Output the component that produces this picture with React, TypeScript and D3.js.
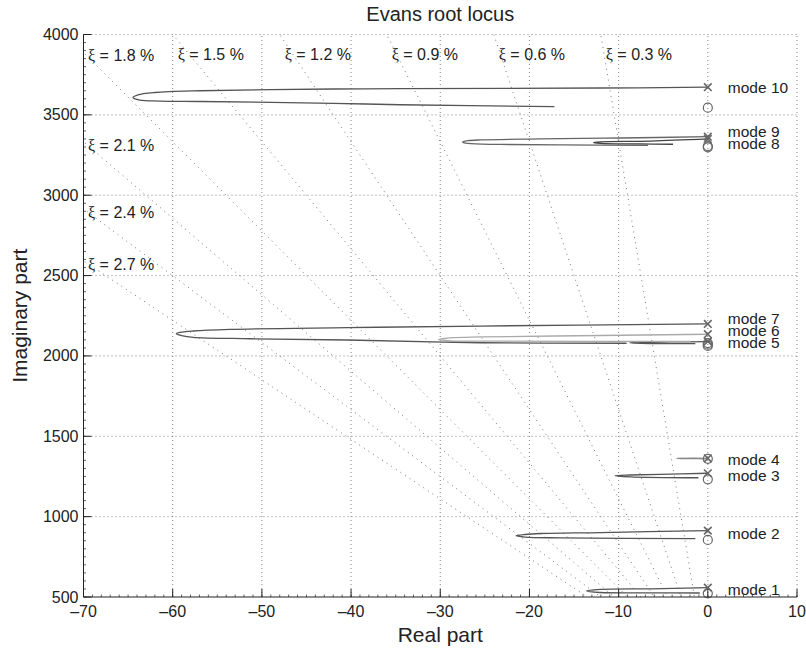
import React from "react";
import * as d3 from "d3";

const xTicks = [-70, -60, -50, -40, -30, -20, -10, 0, 10];
const yTicks = [500, 1000, 1500, 2000, 2500, 3000, 3500, 4000];
const dampingPercent = [0.3, 0.6, 0.9, 1.2, 1.5, 1.8, 2.1, 2.4, 2.7];

const modeNames = ["mode 1", "mode 2", "mode 3", "mode 4", "mode 5", "mode 6", "mode 7", "mode 8", "mode 9", "mode 10"];
const labelImag = [544, 896, 1259, 1357, 2082, 2161, 2236, 3323, 3395, 3672];
const poleImag = [558, 913, 1270, 1363, 2090, 2135, 2199, 3350, 3364, 3672];
const zeroImag = [523, 855, 1232, 1360, 2062, 2080, 2070, 3298, 3306, 3545];
const locusColors = ["#555", "#555", "#555", "#888", "#555", "#aaa", "#555", "#444", "#666", "#555"];

// root locus branches [real, imag]
const locus1: [number, number][] = [[0, 558], [-6.4, 551], [-12.05, 547], [-13.6, 537], [-12.05, 528], [-6.4, 526], [-0.9, 525]];
const locus2: [number, number][] = [[0, 913], [-12.05, 901], [-18.8, 895], [-20.5, 889], [-21.5, 881], [-20.5, 873], [-16.5, 868], [-1.4, 863]];
const locus3: [number, number][] = [[0, 1270], [-5.35, 1263], [-8.7, 1259], [-10.4, 1255], [-8.7, 1248], [-1.05, 1242]];
const locus4: [number, number][] = [[0, 1363], [-1.8, 1363.5], [-3.5, 1362], [-1.8, 1361], [-0.3, 1360]];
const locus5: [number, number][] = [[0, 2089], [-4.2, 2087], [-8.8, 2082], [-6.4, 2077], [-1.4, 2077]];
const locus6: [number, number][] = [[0, 2135], [-12.05, 2127], [-25.5, 2118], [-28.9, 2112], [-30.2, 2102], [-28.9, 2094], [-25.5, 2092], [-1.95, 2091]];
const locus7: [number, number][] = [[0, 2199], [-25.5, 2186], [-40.4, 2176], [-53.6, 2165], [-57.7, 2155], [-59.2, 2146], [-59.6, 2138], [-59.0, 2127], [-57.7, 2116], [-51.3, 2107], [-40.4, 2099], [-25.5, 2082], [-9.1, 2079]];
const locus8: [number, number][] = [[0, 3350], [-6.4, 3337], [-12.05, 3332], [-12.8, 3328], [-12.05, 3322], [-7.6, 3319], [-3.9, 3317]];
const locus9: [number, number][] = [[0, 3364], [-9.8, 3356], [-18.8, 3350], [-25.5, 3344], [-26.9, 3339], [-27.5, 3331], [-26.9, 3322], [-23.3, 3316], [-16.5, 3313], [-6.7, 3311]];
const locus10: [number, number][] = [[0, 3672], [-12.05, 3667], [-34.5, 3663], [-42.0, 3661], [-56.9, 3650], [-62.0, 3639], [-63.9, 3624], [-64.45, 3607], [-63.7, 3592], [-61.4, 3586], [-56.9, 3583], [-42.0, 3572], [-34.5, 3563], [-17.2, 3551]];
const loci = [locus1, locus2, locus3, locus4, locus5, locus6, locus7, locus8, locus9, locus10];

const W = 806, H = 656;
const FONT = "'Liberation Sans', Arial, Helvetica, sans-serif";

export default function App() {
  const x = d3.scaleLinear().domain([-70, 10]).range([83.5, 797]);
  const y = d3.scaleLinear().domain([500, 4000]).range([597, 34.5]);
  const [x0, x1] = x.range();
  const [yb, yt] = y.range();
  const line = d3.line<[number, number]>().x(d => x(d[0])).y(d => y(d[1])).curve(d3.curveCatmullRom.alpha(0.5));
  const xMinor = d3.range(-70, 10.001, 1);
  const yMinor = d3.range(500, 4000.001, 50);
  const fmt = d3.format(".1f");

  const damping = dampingPercent.map(p => {
    const z = p / 100;
    const k = Math.sqrt(1 - z * z) / z;
    const imAtLeft = 70 * k;
    let lx: number, ly: number;
    if (imAtLeft > 4000) {
      lx = x(-4000 / k) + 5;
      ly = yt + 25.5;
    } else {
      lx = x0 + 4.5;
      ly = y(imAtLeft) + 9;
    }
    return { p, k, lx, ly };
  });

  return (
    <svg width={W} height={H} style={{ position: "absolute", left: 0, top: 0, background: "#fff" }} fontFamily={FONT}>
      <defs>
        <clipPath id="plotClip">
          <rect x={x0} y={yt} width={x1 - x0} height={yb - yt} />
        </clipPath>
      </defs>
      {/* grid */}
      <g stroke="#777" strokeWidth={0.9} strokeDasharray="1 3">
        {xTicks.filter(t => t > -70).map(t => (
          <line key={"gx" + t} x1={x(t)} x2={x(t)} y1={yb} y2={yt} />
        ))}
        {yTicks.filter(t => t > 500).map(t => (
          <line key={"gy" + t} x1={x0} x2={x1} y1={y(t)} y2={y(t)} />
        ))}
      </g>
      {/* damping lines */}
      <g clipPath="url(#plotClip)" stroke="#666" strokeWidth={0.9} strokeDasharray="1 4.5">
        {damping.map(d => (
          <line key={"dl" + d.p} x1={x(0)} y1={y(0)} x2={x(-100)} y2={y(100 * d.k)} />
        ))}
      </g>
      {damping.map(d => (
        <text key={"dt" + d.p} x={d.lx} y={d.ly} fontSize={16} fill="#222">
          <tspan fontFamily="'Liberation Serif', 'DejaVu Serif', serif">ξ</tspan>
          <tspan> = {fmt(d.p)} %</tspan>
        </text>
      ))}
      {/* loci */}
      <g clipPath="url(#plotClip)" fill="none" strokeWidth={1.3}>
        {loci.map((l, i) => (
          <path key={"lc" + i} d={line(l) || ""} stroke={locusColors[i]} />
        ))}
      </g>
      {/* zeros and poles */}
      <g fill="none" stroke="#666">
        {zeroImag.map((v, i) => (
          <circle key={"z" + i} cx={x(0)} cy={y(v)} r={4.5} strokeWidth={1.2} />
        ))}
        {poleImag.map((v, i) => (
          <g key={"p" + i} strokeWidth={1.6}>
            <line x1={x(0) - 3.8} x2={x(0) + 3.8} y1={y(v) - 3.8} y2={y(v) + 3.8} />
            <line x1={x(0) - 3.8} x2={x(0) + 3.8} y1={y(v) + 3.8} y2={y(v) - 3.8} />
          </g>
        ))}
      </g>
      {/* mode labels */}
      {modeNames.map((m, i) => (
        <text key={"ml" + i} x={x(0) + 20} y={y(labelImag[i]) + 5.5} fontSize={15.5} fill="#222">{m}</text>
      ))}
      {/* axes */}
      <g stroke="#222" strokeWidth={1}>
        <line x1={x0} x2={x1} y1={yb} y2={yb} />
        <line x1={x0} x2={x0} y1={yb} y2={yt} />
        {xTicks.map(t => (
          <line key={"tx" + t} x1={x(t)} x2={x(t)} y1={yb} y2={yb - 8} />
        ))}
        {yTicks.map(t => (
          <line key={"ty" + t} x1={x0} x2={x0 + 8} y1={y(t)} y2={y(t)} />
        ))}
        {xMinor.map(t => (
          <line key={"mx" + t} x1={x(t)} x2={x(t)} y1={yb} y2={yb - 2.5} strokeWidth={0.7} />
        ))}
        {yMinor.map(t => (
          <line key={"my" + t} x1={x0} x2={x0 + 2.5} y1={y(t)} y2={y(t)} strokeWidth={0.7} />
        ))}
      </g>
      {xTicks.map(t => (
        <text key={"lx" + t} x={x(t)} y={yb + 20} fontSize={16} textAnchor="middle" fill="#222">
          {t < 0 ? "–" + Math.abs(t) : String(t)}
        </text>
      ))}
      {yTicks.map(t => (
        <text key={"ly" + t} x={x0 - 5} y={y(t) + 5.5} fontSize={16} textAnchor="end" fill="#222">{t}</text>
      ))}
      <text x={(x0 + x1) / 2} y={21} fontSize={20} textAnchor="middle" fill="#222">Evans root locus</text>
      <text x={(x0 + x1) / 2} y={642} fontSize={21} textAnchor="middle" fill="#222">Real part</text>
      <text transform={`translate(27, ${(yb + yt) / 2}) rotate(-90)`} fontSize={21} textAnchor="middle" fill="#222">Imaginary part</text>
    </svg>
  );
}
